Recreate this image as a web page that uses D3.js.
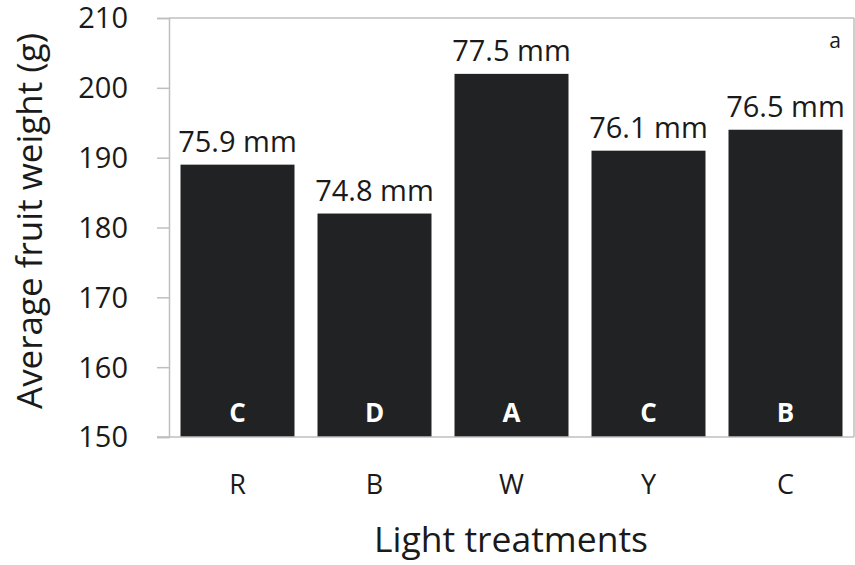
<!DOCTYPE html>
<html>
<head>
<meta charset="utf-8">
<script src="https://cdn.jsdelivr.net/npm/d3@7"></script>
<style>
  html, body { margin: 0; padding: 0; background: #fff; }
  svg { display: block; font-family: "Open Sans", sans-serif; }
</style>
</head>
<body>
<svg id="chart" width="855" height="565"></svg>
<script>
// Light treatments and their average fruit weight (g)
const treatments = ["R", "B", "W", "Y", "C"];
const weights = [189, 182, 202, 191, 194];
// Average fruit diameter shown above each bar
const diameters = ["75.9 mm", "74.8 mm", "77.5 mm", "76.1 mm", "76.5 mm"];
// Significance groups printed inside the bars
const groups = ["C", "D", "A", "C", "B"];
const yTicks = [150, 160, 170, 180, 190, 200, 210];

const svg = d3.select("#chart");
const margin = { top: 18, right: 1, bottom: 128, left: 169 };
const W = 855, H = 565;
const plotW = W - margin.left - margin.right;
const plotH = H - margin.top - margin.bottom;

const g = svg.append("g").attr("transform", `translate(${margin.left},${margin.top})`);

const x = d3.scaleBand().domain(treatments).range([0, plotW]).paddingInner(0.168).paddingOuter(0.084);
const y = d3.scaleLinear().domain([150, 210]).range([plotH, 0]);

const axisColor = "#bfbfbf";
const textColor = "#1a1a1a";

// Plot frame: top and right edges
g.append("line").attr("x1", 0).attr("x2", plotW).attr("y1", 0).attr("y2", 0)
  .attr("stroke", axisColor).attr("stroke-width", 1.5);
g.append("line").attr("x1", plotW).attr("x2", plotW).attr("y1", 0).attr("y2", plotH)
  .attr("stroke", axisColor).attr("stroke-width", 1.5);

// Y axis
const yAxis = g.append("g").call(d3.axisLeft(y).tickValues(yTicks).tickSize(12).tickPadding(29));
yAxis.select(".domain").attr("stroke", axisColor).attr("stroke-width", 1.5);
yAxis.selectAll(".tick line").attr("stroke", axisColor).attr("stroke-width", 1.5);
yAxis.selectAll(".tick text").attr("fill", textColor).attr("font-size", 29)
  .attr("dy", "0.34em")
  .attr("font-family", "'Open Sans', sans-serif");

// Bars
g.selectAll("rect.bar").data(treatments).join("rect")
  .attr("class", "bar")
  .attr("x", d => x(d))
  .attr("width", x.bandwidth())
  .attr("y", (d, i) => y(weights[i]))
  .attr("height", (d, i) => plotH - y(weights[i]))
  .attr("fill", "#202224");

// X axis baseline
g.append("line").attr("x1", -12).attr("x2", plotW).attr("y1", plotH).attr("y2", plotH)
  .attr("stroke", axisColor).attr("stroke-width", 1.5);

// X axis labels
const xAxis = g.append("g").attr("transform", `translate(0,${plotH})`)
  .call(d3.axisBottom(x).tickSize(0).tickPadding(38));
xAxis.select(".domain").remove();
xAxis.selectAll(".tick text").attr("fill", textColor).attr("font-size", 27)
  .attr("font-family", "'Open Sans', sans-serif");

// Diameter labels above bars
g.selectAll("text.diam").data(treatments).join("text")
  .attr("class", "diam")
  .attr("x", d => x(d) + x.bandwidth() / 2)
  .attr("y", (d, i) => y(weights[i]) - 13)
  .attr("text-anchor", "middle")
  .attr("font-size", 29)
  .attr("fill", textColor)
  .text((d, i) => diameters[i]);

// Group letters inside bars
g.selectAll("text.grp").data(treatments).join("text")
  .attr("class", "grp")
  .attr("x", d => x(d) + x.bandwidth() / 2)
  .attr("y", plotH - 15)
  .attr("text-anchor", "middle")
  .attr("font-size", 26)
  .attr("font-weight", "bold")
  .attr("fill", "#ffffff")
  .text((d, i) => groups[i]);

// Panel letter
svg.append("text").attr("x", 841).attr("y", 48).attr("text-anchor", "end")
  .attr("font-size", 21).attr("fill", textColor).text("a");

// Axis titles
svg.append("text")
  .attr("transform", "translate(42,221) rotate(-90)")
  .attr("text-anchor", "middle").attr("font-size", 35).attr("fill", textColor)
  .text("Average fruit weight (g)");

svg.append("text").attr("x", 511).attr("y", 552).attr("text-anchor", "middle")
  .attr("font-size", 35.5).attr("fill", textColor).text("Light treatments");
</script>
</body>
</html>
